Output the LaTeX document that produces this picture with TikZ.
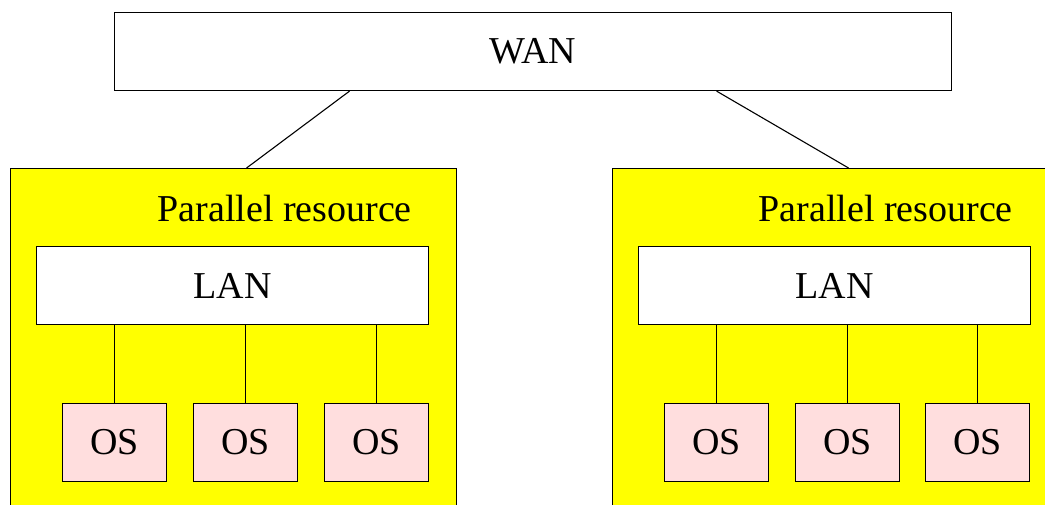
\documentclass[tikz,border=0pt]{standalone}
\usepackage{fontspec}
\setmainfont{Liberation Serif}
\definecolor{ospink}{RGB}{255,222,222}
\definecolor{resyellow}{RGB}{255,255,0}
\begin{document}
\begin{tikzpicture}[x=1pt,y=-1pt,
  every node/.style={font=\fontsize{38}{40}\selectfont},
  box/.style={draw,line width=1.1pt,inner sep=0pt,fill=white,anchor=north west},
  resbox/.style={box,fill=resyellow},
  osbox/.style={box,fill=ospink,minimum width=104pt,minimum height=78pt},
  lanbox/.style={box,minimum width=392pt,minimum height=78pt},
  link/.style={line width=1.1pt}]
\useasboundingbox (0,0) rectangle (1045,504);
\node[box,minimum width=837pt,minimum height=78pt] (wan) at (114,12) {WAN};
\node[resbox,minimum width=446pt,minimum height=360pt] (pr1) at (10,168) {};
\node[resbox,minimum width=460pt,minimum height=360pt] (pr2) at (612,168) {};
\node[anchor=base east,inner sep=0pt] (t1) at (412,221) {Parallel resource};
\node[anchor=base east,inner sep=0pt] (t2) at (1013,221) {Parallel resource};
\node[lanbox] (lan1) at (36,246) {LAN};
\node[lanbox] (lan2) at (638,246) {LAN};
\node[osbox] (os11) at (62,403) {OS};
\node[osbox] (os12) at (193,403) {OS};
\node[osbox] (os13) at (324,403) {OS};
\node[osbox] (os21) at (664,403) {OS};
\node[osbox] (os22) at (795,403) {OS};
\node[osbox] (os23) at (925,403) {OS};
\draw[link] ([xshift=-183.5pt]wan.south) -- ([xshift=13pt]pr1.north);
\draw[link] ([xshift=183.5pt]wan.south) -- ([xshift=6pt]pr2.north);
\foreach \l/\o in {lan1/os11,lan1/os12,lan1/os13,lan2/os21,lan2/os22,lan2/os23}
  \draw[link] (\o.north) -- (\o.north |- \l.south);
\end{tikzpicture}
\end{document}
